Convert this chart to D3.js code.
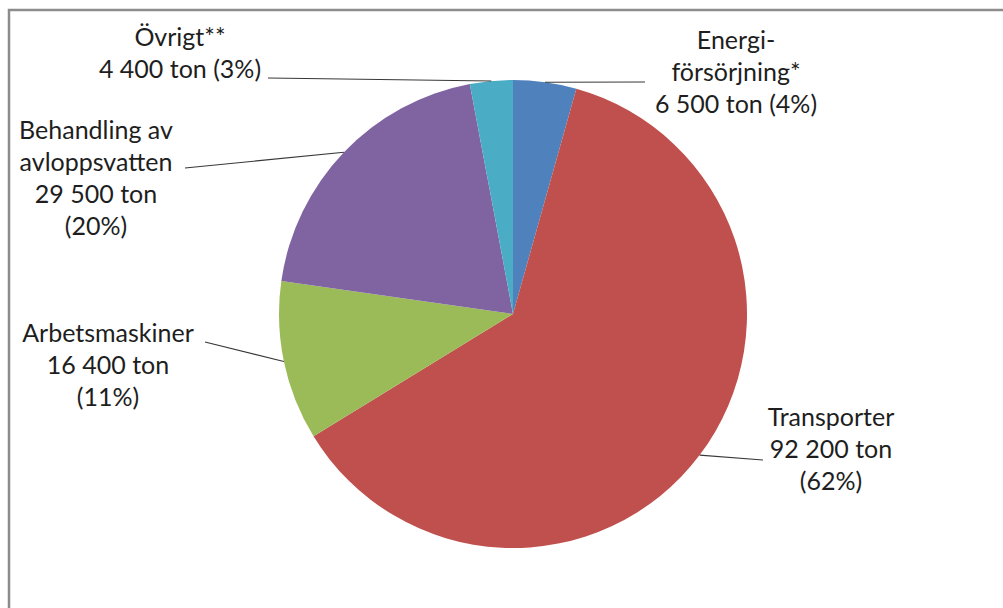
<!DOCTYPE html>
<html><head><meta charset="utf-8">
<script src="https://cdn.jsdelivr.net/npm/d3@7"></script>
<style>body{margin:0;background:#fff}svg{display:block}</style>
</head><body>
<script>
const categories = ["Energiförsörjning*", "Transporter", "Arbetsmaskiner", "Behandling av avloppsvatten", "Övrigt**"];
const values = [6500, 92200, 16400, 29500, 4400];
const percents = ["4%", "62%", "11%", "20%", "3%"];
const colors = ["#4F81BD", "#C0504D", "#9BBB59", "#8064A2", "#4BACC6"];
const labelLines = [
  ["Energi-", "försörjning*", "6 500 ton (4%)"],
  ["Transporter", "92 200 ton", "(62%)"],
  ["Arbetsmaskiner", "16 400 ton", "(11%)"],
  ["Behandling av", "avloppsvatten", "29 500 ton", "(20%)"],
  ["Övrigt**", "4 400 ton (3%)"]
];
// label layout: text center x, first baseline y, leader end point
const labelLayout = [
  {x: 736, y: 49, lx: 645, ly: 82},
  {x: 831, y: 426, lx: 763, ly: 460},
  {x: 108, y: 342, lx: 205, ly: 342},
  {x: 96, y: 139, lx: 185, ly: 168},
  {x: 180, y: 46, lx: 268, ly: 78}
];

const W = 1003, H = 608;
const svg = d3.select("body").append("svg").attr("width", W).attr("height", H);
svg.append("rect").attr("x", 9).attr("y", 10).attr("width", 1200).attr("height", 800)
  .attr("fill", "none").attr("stroke", "#8c8c8c").attr("stroke-width", 2.5);

const cx = 513, cy = 314, R = 234;
const g = svg.append("g").attr("transform", `translate(${cx},${cy})`);
const pie = d3.pie().sort(null).value(d => d)(values);
const arc = d3.arc().innerRadius(0).outerRadius(R);
g.selectAll("path").data(pie).join("path")
  .attr("d", arc).attr("fill", (d, i) => colors[i]);

// leader lines
pie.forEach((d, i) => {
  const a = (d.startAngle + d.endAngle) / 2;
  const px = cx + R * Math.sin(a), py = cy - R * Math.cos(a);
  const L = labelLayout[i];
  svg.append("line").attr("x1", px).attr("y1", py).attr("x2", L.lx).attr("y2", L.ly)
    .attr("stroke", "#383838").attr("stroke-width", 1.1);
});

// labels
labelLines.forEach((lines, i) => {
  const L = labelLayout[i];
  const t = svg.append("text").attr("text-anchor", "middle")
    .attr("font-family", "Lato, 'Open Sans', sans-serif").attr("font-size", 25)
    .attr("fill", "#1e1e1e");
  lines.forEach((s, j) => {
    t.append("tspan").attr("x", L.x).attr("y", L.y + j * 32).text(s);
  });
});
</script>
</body></html>
